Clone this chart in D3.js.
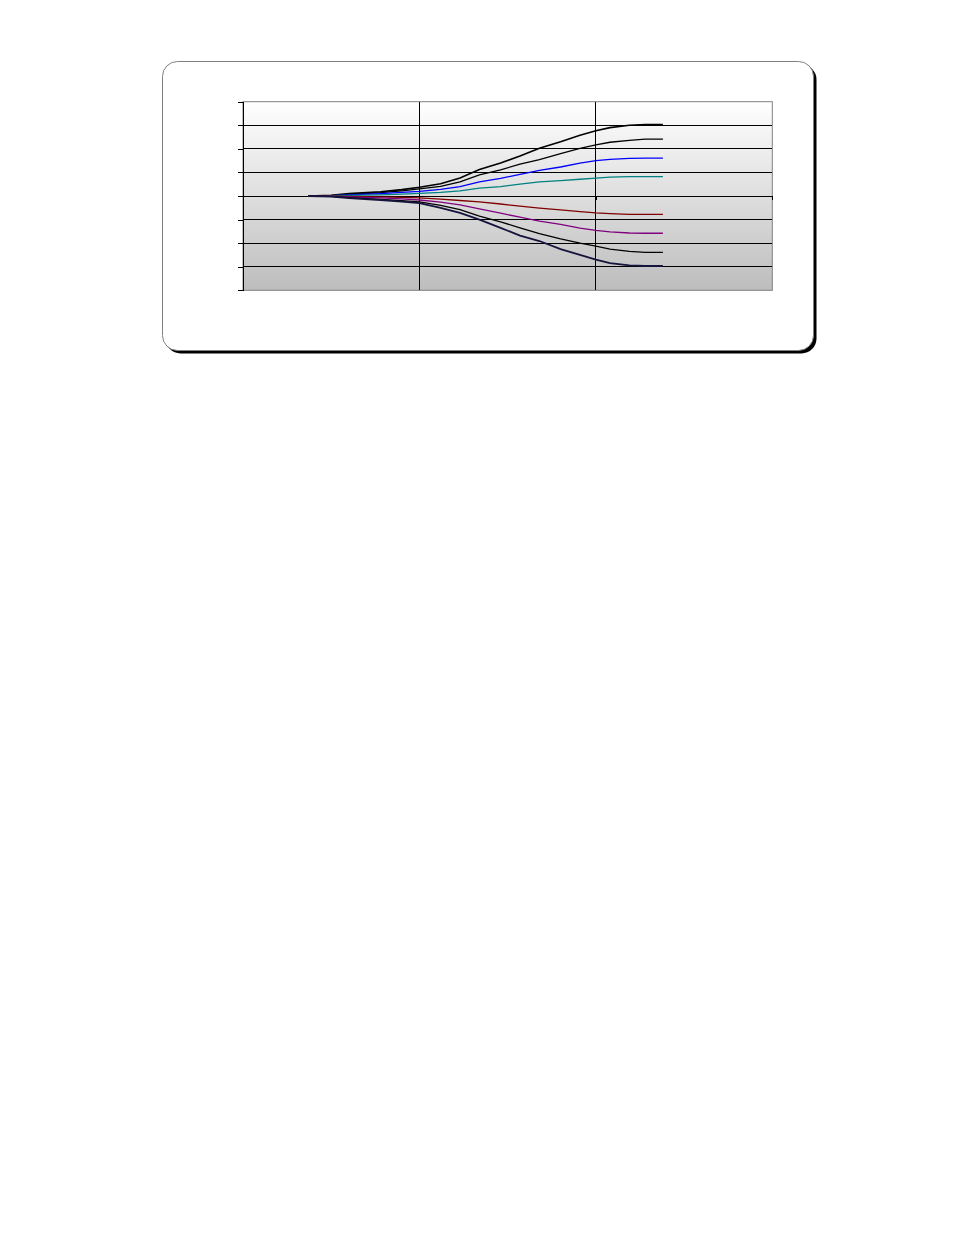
<!DOCTYPE html>
<html>
<head>
<meta charset="utf-8">
<script src="https://cdn.jsdelivr.net/npm/d3@7"></script>
<style>
  body { margin: 0; background: #fff; }
</style>
</head>
<body>
<div id="chart"></div>
<script>
// x positions of the samples (axis runs 0..3)
var xs = [0.37, 0.5, 0.6, 0.78, 0.9, 1.0, 1.12, 1.23, 1.34, 1.46, 1.57, 1.68, 1.8, 1.91, 2.0, 2.08, 2.19, 2.28, 2.38]

// one array per line, read from top to bottom
var s1 = [0, 0.03, 0.1, 0.18, 0.27, 0.37, 0.52, 0.76, 1.12, 1.4, 1.7, 2.03, 2.3, 2.58, 2.77, 2.9, 3.0, 3.03, 3.03]
var s2 = [0, 0.02, 0.07, 0.14, 0.22, 0.3, 0.41, 0.6, 0.9, 1.11, 1.35, 1.54, 1.8, 2.02, 2.17, 2.28, 2.36, 2.41, 2.41]
var s3 = [0, 0.02, 0.05, 0.1, 0.15, 0.2, 0.28, 0.4, 0.6, 0.75, 0.92, 1.09, 1.23, 1.39, 1.5, 1.55, 1.6, 1.61, 1.61]
var s4 = [0, 0.01, 0.03, 0.05, 0.08, 0.11, 0.15, 0.22, 0.33, 0.4, 0.5, 0.6, 0.65, 0.71, 0.76, 0.8, 0.82, 0.82, 0.82]
var s5 = [0, -0.01, -0.02, -0.04, -0.06, -0.08, -0.13, -0.19, -0.25, -0.34, -0.43, -0.51, -0.59, -0.66, -0.72, -0.75, -0.78, -0.78, -0.78]
var s6 = [0, -0.01, -0.04, -0.08, -0.12, -0.17, -0.26, -0.38, -0.55, -0.73, -0.9, -1.07, -1.2, -1.36, -1.46, -1.52, -1.57, -1.58, -1.58]
var s7 = [0, -0.02, -0.07, -0.14, -0.2, -0.25, -0.4, -0.58, -0.85, -1.1, -1.35, -1.6, -1.82, -2.0, -2.13, -2.25, -2.35, -2.39, -2.39]
var s8 = [0, -0.03, -0.09, -0.17, -0.24, -0.3, -0.5, -0.72, -1.0, -1.35, -1.68, -1.91, -2.25, -2.5, -2.7, -2.85, -2.94, -2.97, -2.97]

var seriesColors = ['#000000', '#000000', '#0000ff', '#008080', '#800000', '#800080', '#000000', '#14143c']
var seriesWidths = [1.6, 1.3, 1.3, 1.3, 1.3, 1.3, 1.3, 1.8]

var yTicks = [-4, -3, -2, -1, 0, 1, 2, 3, 4]
var xTicks = [0, 1, 2, 3]

var width = 954
var height = 1235
var plot = { left: 243, top: 101.7, right: 772.3, bottom: 290.3 }

var svg = d3.select('#chart').append('svg').attr('width', width).attr('height', height)

// frame with hard shadow
svg.append('rect').attr('x', 165.5).attr('y', 64.5).attr('width', 651).attr('height', 289)
    .attr('rx', 15).attr('fill', '#000')
svg.append('rect').attr('x', 162.5).attr('y', 61.5).attr('width', 651).attr('height', 289)
    .attr('rx', 15).attr('fill', '#fff').attr('stroke', '#808080').attr('stroke-width', 1)

var defs = svg.append('defs')
var grad = defs.append('linearGradient').attr('id', 'bg').attr('x1', 0).attr('y1', 0).attr('x2', 0).attr('y2', 1)
grad.append('stop').attr('offset', '0%').attr('stop-color', '#ffffff')
grad.append('stop').attr('offset', '100%').attr('stop-color', '#bdbdbd')

var xScale = d3.scaleLinear().domain([0, 3]).range([plot.left, plot.right])
var yScale = d3.scaleLinear().domain([-4, 4]).range([plot.bottom, plot.top])

// plot area
svg.append('rect').attr('x', plot.left).attr('y', plot.top)
    .attr('width', plot.right - plot.left).attr('height', plot.bottom - plot.top)
    .attr('fill', 'url(#bg)').attr('stroke', '#808080').attr('stroke-width', 1)

// gridlines
var grid = svg.append('g').attr('stroke', '#000').attr('stroke-width', 1).attr('shape-rendering', 'crispEdges')
grid.selectAll('.hg').data(yTicks.filter(d => d > -4 && d < 4)).join('line')
    .attr('x1', plot.left).attr('x2', plot.right)
    .attr('y1', d => yScale(d)).attr('y2', d => yScale(d))
grid.selectAll('.vg').data(xTicks.filter(d => d > 0 && d < 3)).join('line')
    .attr('x1', d => xScale(d)).attr('x2', d => xScale(d))
    .attr('y1', plot.top).attr('y2', plot.bottom)

// x axis along zero, no labels
svg.append('g').attr('transform', `translate(0,${yScale(0)})`)
    .call(d3.axisBottom(xScale).tickValues(xTicks).tickSize(4).tickFormat(''))
    .call(g => g.select('.domain').attr('stroke', '#000'))
    .attr('shape-rendering', 'crispEdges')

// y axis, ticks only
svg.append('g').attr('transform', `translate(${plot.left},0)`)
    .call(d3.axisLeft(yScale).tickValues(yTicks).tickSize(5).tickSizeOuter(0).tickFormat(''))
    .call(g => g.select('.domain').attr('stroke', '#000'))
    .attr('shape-rendering', 'crispEdges')

// lines
var allSeries = [s1, s2, s3, s4, s5, s6, s7, s8]
var line = d3.line().x((d, i) => xScale(xs[i])).y(d => yScale(d))

svg.append('g').selectAll('path').data(allSeries).join('path')
    .attr('d', d => line(d))
    .attr('fill', 'none')
    .attr('stroke', (d, i) => seriesColors[i])
    .attr('stroke-width', (d, i) => seriesWidths[i])
</script>
</body>
</html>
